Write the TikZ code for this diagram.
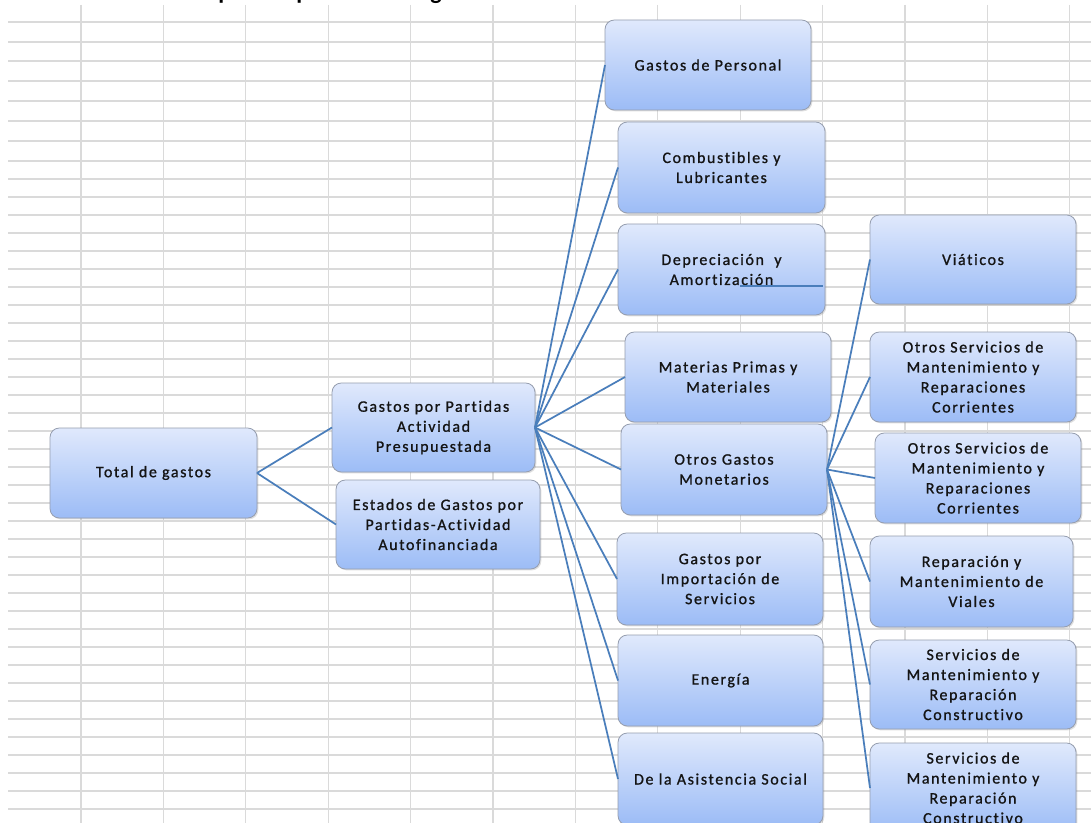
\documentclass[tikz,border=0pt]{standalone}
\usepackage{fontspec}
\newfontfamily\boxfont{Carlito}[LetterSpace=10, Ligatures=NoCommon, FakeBold=1]
\newfontfamily\titlefont{Carlito}
\usetikzlibrary{shadows}
\definecolor{gridc}{RGB}{218,218,218}
\definecolor{boxtop}{RGB}{224,233,252}
\definecolor{boxbot}{RGB}{156,188,246}
\definecolor{boxline}{RGB}{150,158,175}
\definecolor{conn}{RGB}{74,126,187}
\definecolor{txt}{RGB}{20,20,20}
\tikzset{
  box/.style={draw=boxline, line width=0.6pt, rounded corners=7pt,
    top color=boxtop, bottom color=boxbot, align=center, outer sep=0pt,
    font=\boxfont\fontsize{12}{15}\selectfont, text=txt, inner sep=2pt,
    drop shadow={shadow xshift=1pt, shadow yshift=-1pt, opacity=0.25}},
  sz/.style 2 args={minimum width=#1*0.75pt, minimum height=#2*0.75pt},
  link/.style={draw=conn, line width=1.3pt},
  gridline/.style={draw=gridc, line width=1pt},
  titlech/.style={anchor=base west, inner sep=0pt,
    font=\titlefont\bfseries\fontsize{18}{20}\selectfont}
}
\begin{document}
\begin{tikzpicture}[x=0.75pt, y=-0.75pt]
\useasboundingbox[fill=white] (0,0) rectangle (1091,823);
% spreadsheet grid
\foreach \k in {0,...,12}
  \draw[gridline] ({81+82.4*\k},5) -- ({81+82.4*\k},823);
\foreach \yy in {22,42,61,81,101,121,141,161}
  \draw[gridline] (8,\yy) -- (1091,\yy);
\foreach \k in {1,...,36}
  \draw[gridline] (8,{161+18*\k}) -- (1091,{161+18*\k});
% cut-off title (only descenders visible)
\node[titlech] (t1) at (218,-0.5) {p};
\node[titlech] (t2) at (296,-0.5) {p};
\node[titlech] (t3) at (430,-0.5) {g};
% level 0
\node[box, sz={207}{90}] (total) at (153.5,473) {Total de gastos};
% level 1
\node[box, sz={203}{89}] (gpp) at (433.5,427.5) {Gastos por Partidas\\Actividad\\Presupuestada};
\node[box, sz={204}{89}] (est) at (438,524.5) {Estados de Gastos por\\Partidas-Actividad\\Autofinanciada};
% level 2
\node[box, sz={206}{90}] (pers) at (708,65) {Gastos de Personal};
\node[box, sz={207}{91}] (comb) at (721.5,167.5) {Combustibles y\\Lubricantes};
\node[box, sz={207}{91}] (dep) at (721.5,269.5) {Depreciación \ y\\Amortización};
\node[box, sz={206}{90}] (mat) at (728,377) {Materias Primas y\\Materiales};
\node[box, sz={206}{91}] (otros) at (724,469.5) {Otros Gastos\\Monetarios};
\node[box, sz={206}{92}] (imp) at (720,579) {Gastos por\\Importación de\\Servicios};
\node[box, sz={205}{91}] (ener) at (720.5,680.5) {Energía};
\node[box, sz={205}{92}] (asis) at (720.5,779) {De la Asistencia Social};
% level 3
\node[box, sz={206}{89}] (viat) at (973,259.5) {Viáticos};
\node[box, sz={206}{90}] (os1) at (973,377) {Otros Servicios de\\Mantenimiento y\\Reparaciones\\Corrientes};
\node[box, sz={206}{90}] (os2) at (978,478) {Otros Servicios de\\Mantenimiento y\\Reparaciones\\Corrientes};
\node[box, sz={203}{91}] (vial) at (971.5,581.5) {Reparación y\\Mantenimiento de\\Viales};
\node[box, sz={206}{89}] (smc1) at (973,684.5) {Servicios de\\Mantenimiento y\\Reparación\\Constructivo};
\node[box, sz={206}{90}] (smc2) at (973,788) {Servicios de\\Mantenimiento y\\Reparación\\Constructivo};
% connectors
\draw[link] (total.east) -- (gpp.west);
\draw[link] (total.east) -- (est.west);
\foreach \n in {pers,comb,dep,mat,otros,imp,ener,asis}
  \draw[link] (gpp.east) -- (\n.west);
\foreach \n in {viat,os1,os2,vial,smc1,smc2}
  \draw[link] (otros.east) -- (\n.west);
% stray line inside Depreciacion box
\coordinate (s1) at (740,286);
\coordinate (s2) at (823,286);
\draw[draw=conn, line width=0.8pt] (s1) -- (s2);
\end{tikzpicture}
\end{document}
